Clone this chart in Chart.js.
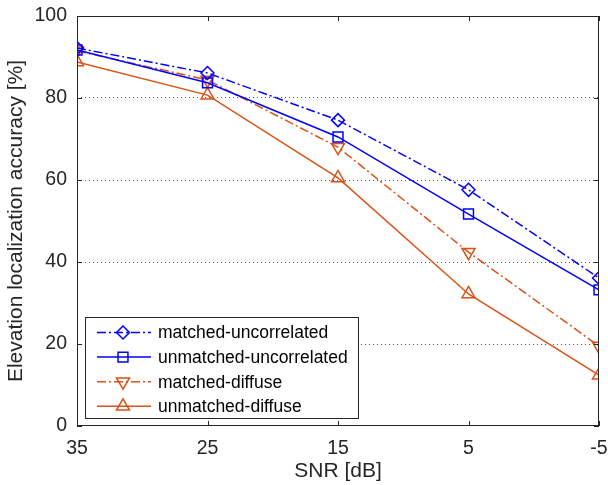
<!DOCTYPE html>
<html><head><meta charset="utf-8">
<script src="https://cdn.jsdelivr.net/npm/chart.js@4/dist/chart.umd.min.js"></script>
<style>html,body{margin:0;padding:0;background:#fff}#wrap{width:608px;height:485px}</style>
</head><body><div id="wrap"><canvas id="c" width="608" height="485"></canvas></div>
<script>
const snr = [35, 25, 15, 5, -5];
const matchedUncorrelated = [92.2, 86.1, 74.6, 57.6, 36.1];
const unmatchedUncorrelated = [91.7, 83.7, 70.5, 51.7, 33.2];
const matchedDiffuse = [91.5, 84.4, 68.0, 42.4, 19.5];
const unmatchedDiffuse = [88.8, 80.7, 60.5, 32.2, 12.4];
const yTicks = [0, 20, 40, 60, 80, 100];
const xTicks = [35, 25, 15, 5, -5];

const BLUE = '#0000FF', ORANGE = '#D95319';
const DASHDOT = [9, 3, 2, 3];
const FONT = '"Liberation Sans", Arial, sans-serif';

function pts(vals){ return snr.map((x,i)=>({x:x,y:vals[i]})); }
function ds(label, vals, color, dash, style, rot, r){
  return {label, data: pts(vals), borderColor: color, backgroundColor: 'rgba(0,0,0,0)',
    borderWidth: 1.5, borderDash: dash, pointStyle: style, pointRotation: rot,
    pointRadius: r, pointHoverRadius: r, pointBorderColor: color, pointBackgroundColor: 'rgba(0,0,0,0)',
    pointBorderWidth: 1.5, tension: 0, fill: false};
}

const boxPlugin = {
  id: 'box',
  afterDraw(chart){
    const {ctx, chartArea: a, scales} = chart;
    ctx.save();
    ctx.strokeStyle = '#262626'; ctx.lineWidth = 1;
    ctx.strokeRect(a.left+0.5, a.top+0.5, a.right-a.left-1, a.bottom-a.top-1);
    ctx.beginPath();
    const tl = 5;
    yTicks.forEach(v=>{ const y = Math.round(scales.y.getPixelForValue(v))+0.5;
      ctx.moveTo(a.left, y); ctx.lineTo(a.left+tl, y); ctx.moveTo(a.right, y); ctx.lineTo(a.right-tl, y); });
    xTicks.forEach(v=>{ const x = Math.round(scales.x.getPixelForValue(v))+0.5;
      ctx.moveTo(x, a.bottom); ctx.lineTo(x, a.bottom-tl); ctx.moveTo(x, a.top); ctx.lineTo(x, a.top+tl); });
    ctx.stroke();
    // legend
    const lx = 85, ly = 317, lw = 273, lh = 101;
    ctx.fillStyle = '#fff'; ctx.fillRect(lx, ly, lw, lh);
    ctx.strokeStyle = '#262626'; ctx.strokeRect(lx+0.5, ly+0.5, lw, lh);
    ctx.font = '17.5px ' + FONT; ctx.textBaseline = 'middle';
    chart.data.datasets.forEach((d,i)=>{
      const y = ly + 15.5 + i*24.6;
      ctx.save();
      ctx.strokeStyle = d.borderColor; ctx.fillStyle = 'rgba(0,0,0,0)'; ctx.lineWidth = 1.5; ctx.setLineDash(d.borderDash);
      ctx.beginPath(); ctx.moveTo(lx+12, y); ctx.lineTo(lx+66, y); ctx.stroke();
      ctx.setLineDash([]);
      Chart.helpers.drawPoint(ctx, {pointStyle: d.pointStyle, rotation: d.pointRotation, radius: d.pointRadius, borderWidth: 1.5}, lx+38, y);
      ctx.restore();
      ctx.fillStyle = '#000';
      ctx.fillText(d.label, lx+73, y+1);
    });
    ctx.restore();
  }
};

new Chart(document.getElementById('c'), {
  type: 'line',
  data: { datasets: [
    ds('matched-uncorrelated', matchedUncorrelated, BLUE, DASHDOT, 'rectRot', 0, 6.5),
    ds('unmatched-uncorrelated', unmatchedUncorrelated, BLUE, [], 'rect', 0, 7),
    ds('matched-diffuse', matchedDiffuse, ORANGE, DASHDOT, 'triangle', 180, 7.5),
    ds('unmatched-diffuse', unmatchedDiffuse, ORANGE, [], 'triangle', 0, 7.5)
  ]},
  options: {
    responsive: false, animation: false, devicePixelRatio: 1,
    layout: { padding: { top: 16, right: 7, left: 0, bottom: 0 } },
    plugins: { legend: { display: false }, tooltip: { enabled: false } },
    scales: {
      x: { type: 'linear', reverse: true, min: -5, max: 35,
        afterBuildTicks(s){ s.ticks = xTicks.map(v=>({value:v})); },
        afterFit(s){ s.height = 59; s.paddingLeft = 0; s.paddingRight = 0; },
        grid: { display: false, drawTicks: false },
        border: { display: false },
        ticks: { color: '#262626', font: { family: FONT, size: 19.5 }, padding: 11, maxRotation: 0,
          callback: v => String(v) },
        title: { display: true, text: 'SNR [dB]', color: '#262626', font: { family: FONT, size: 21 }, padding: { top: 0, bottom: 1 } }
      },
      y: { type: 'linear', min: 0, max: 100,
        afterBuildTicks(s){ s.ticks = yTicks.map(v=>({value:v})); },
        afterFit(s){ s.width = 77; s.paddingTop = 0; s.paddingBottom = 0; },
        grid: { drawTicks: false, lineWidth: 1,
          color: c => (c.tick && (c.tick.value === 0 || c.tick.value === 100)) ? 'rgba(0,0,0,0)' : '#555' },
        border: { display: false, dash: [1, 3] },
        ticks: { color: '#262626', font: { family: FONT, size: 19.5 }, padding: 10 },
        title: { display: true, text: 'Elevation localization accuracy [%]', color: '#262626', font: { family: FONT, size: 21 }, padding: { bottom: 0 } }
      }
    }
  },
  plugins: [boxPlugin]
});
</script></body></html>
